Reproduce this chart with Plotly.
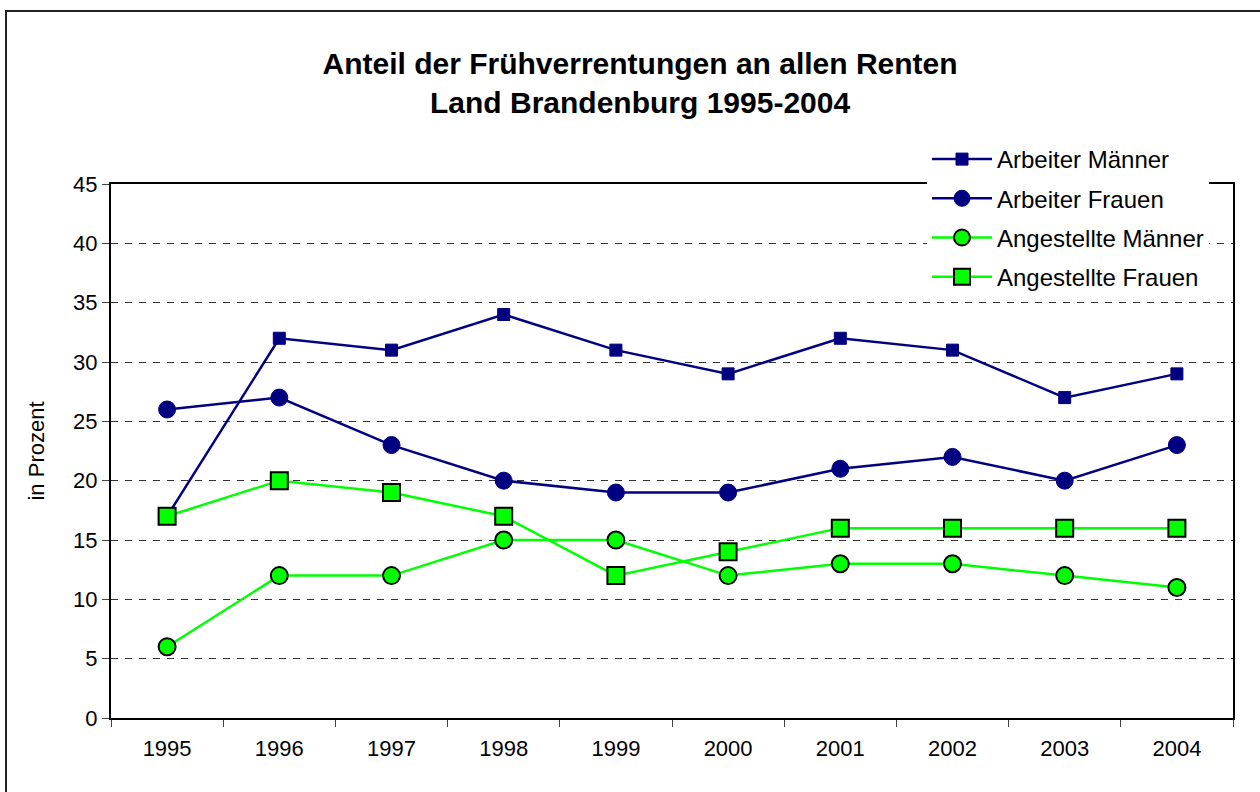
import plotly.graph_objects as go

years = ["1995", "1996", "1997", "1998", "1999", "2000", "2001", "2002", "2003", "2004"]
arbeiter_maenner = [17, 32, 31, 34, 31, 29, 32, 31, 27, 29]
arbeiter_frauen = [26, 27, 23, 20, 19, 19, 21, 22, 20, 23]
angestellte_maenner = [6, 12, 12, 15, 15, 12, 13, 13, 12, 11]
angestellte_frauen = [17, 20, 19, 17, 12, 14, 16, 16, 16, 16]
y_ticks = [0, 5, 10, 15, 20, 25, 30, 35, 40, 45]

NAVY = "#000080"
GREEN = "#00FF00"
FONT = "Liberation Sans, Arial, sans-serif"

fig = go.Figure()
fig.add_trace(go.Scatter(
    x=years, y=arbeiter_maenner, name="Arbeiter Männer", mode="lines+markers",
    line=dict(color=NAVY, width=2.5), legendgroup="a",
    marker=dict(symbol="square", size=12, color=NAVY, line=dict(color=NAVY, width=1))))
fig.add_trace(go.Scatter(
    x=years, y=arbeiter_frauen, name="Arbeiter Frauen", mode="lines+markers",
    line=dict(color=NAVY, width=2.5), legendgroup="b",
    marker=dict(symbol="circle", size=17, color=NAVY, line=dict(color=NAVY, width=1))))
fig.add_trace(go.Scatter(
    x=years, y=angestellte_maenner, name="Angestellte Männer", mode="lines+markers",
    line=dict(color=GREEN, width=2.5), legendgroup="c",
    marker=dict(symbol="circle", size=17, color=GREEN, line=dict(color="black", width=2))))
fig.add_trace(go.Scatter(
    x=years, y=angestellte_frauen, name="Angestellte Frauen", mode="lines+markers",
    line=dict(color=GREEN, width=2.5), legendgroup="d",
    marker=dict(symbol="square", size=17, color=GREEN, line=dict(color="black", width=2))))

L, R, T, B = 111, 27, 184, 74
W, H = 1260, 792
pw, ph = W - L - R, H - T - B

def px_x(v):
    return (v - L) / pw

def px_y(v):
    return (H - B - v) / ph

fig.add_shape(type="rect", xref="paper", yref="paper",
              x0=px_x(6), x1=px_x(1270), y0=px_y(800), y1=px_y(11),
              line=dict(color="#222", width=2), layer="below")

fig.update_layout(
    width=W, height=H,
    margin=dict(l=L, r=R, t=T, b=B, autoexpand=False),
    paper_bgcolor="white", plot_bgcolor="white",
    font=dict(family=FONT, color="black", size=22),
    title=dict(text="<b>Anteil der Frühverrentungen an allen Renten<br>Land Brandenburg 1995-2004</b>",
               x=0.508, xanchor="center", y=1 - 74 / H, yanchor="top",
               font=dict(family=FONT, size=30, color="black")),
    showlegend=True,
    legend=dict(x=px_x(927), xanchor="left", y=px_y(137), yanchor="top",
                bgcolor="white", borderwidth=0, tracegroupgap=5, itemwidth=60,
                font=dict(family=FONT, size=24, color="black")),
    xaxis=dict(type="category", range=[-0.5, 9.5], tickson="boundaries",
               showline=True, linecolor="black", linewidth=2, mirror=True,
               ticks="outside", ticklen=7, tickwidth=1, tickcolor="#444",
               ticklabelstandoff=10,
               showgrid=False, zeroline=False, tickfont=dict(size=22)),
    yaxis=dict(range=[0, 45], tickvals=y_ticks, showline=True, linecolor="black",
               linewidth=2, mirror=True, ticks="outside", ticklen=7, tickwidth=1,
               tickcolor="#444", showgrid=True, gridcolor="#333", griddash="7px,7px",
               gridwidth=1, zeroline=False, tickfont=dict(size=22),
               title=dict(text="in Prozent", font=dict(size=22), standoff=22)),
)

fig.write_html("out.html", config={"displayModeBar": False},
               post_script="document.body.style.margin='0';")
